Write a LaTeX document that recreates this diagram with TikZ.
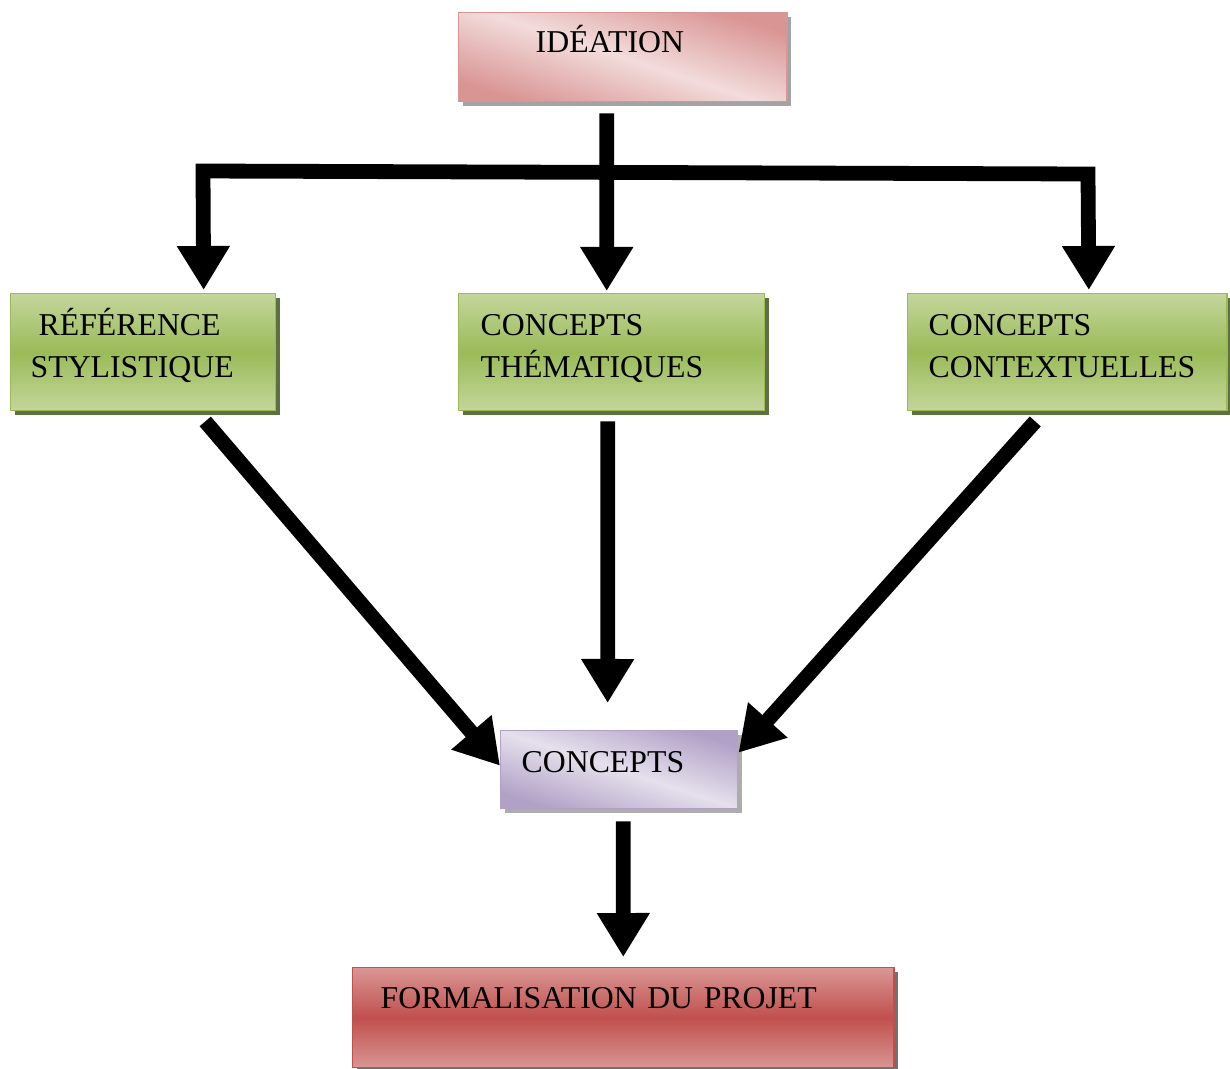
\documentclass[tikz,border=0pt]{standalone}
\usepackage{fontspec}
\setmainfont{Liberation Serif}
\usetikzlibrary{arrows.meta,shadows}
\definecolor{idedark}{HTML}{D99594}
\definecolor{idelight}{HTML}{F2DCDB}
\definecolor{verdark}{HTML}{9BBB59}
\definecolor{verlight}{HTML}{C3D69B}
\definecolor{vershadow}{HTML}{5E7040}
\definecolor{viodark}{HTML}{B2A1C7}
\definecolor{violight}{HTML}{E5E0EC}
\definecolor{roudark}{HTML}{C0504D}
\definecolor{roulight}{HTML}{D99694}

\begin{document}
\begin{tikzpicture}[
        x=0.025cm, y=-0.025cm,
        every node/.style={font=\fontsize{22.6}{29.8}\selectfont, anchor=north west,
          inner ysep=0pt, align=left, line width=1pt},
        >={Triangle[width=1.25cm,length=1.1cm]},
        ide/.style={
          draw=idedark, top color=idedark, bottom color=idedark, middle color=idelight,
          shading angle=-18,
          drop shadow={fill=black!45, opacity=0.8, shadow xshift=0.1cm, shadow yshift=-0.1cm},
        },
        ver/.style={
          draw=verdark, top color=verlight, bottom color=verlight, middle color=verdark,
          drop shadow={fill=vershadow, opacity=1, shadow xshift=0.1cm, shadow yshift=-0.1cm},
          text height=1.05cm, text depth=1.875cm,
        },
        vio/.style={
          draw=viodark, top color=viodark, bottom color=viodark, middle color=violight,
          shading angle=-18,
          drop shadow={fill=black!40, opacity=0.8, shadow xshift=0.1cm, shadow yshift=-0.1cm},
        },
        rou/.style={
          draw=roudark, top color=roulight, bottom color=roulight, middle color=roudark,
          drop shadow={fill=black!70, opacity=0.8, shadow xshift=0.1cm, shadow yshift=-0.1cm},
        },
        fl/.style={line width=0.37cm, draw=black},
      ]
      \useasboundingbox (0,0) rectangle (1230,1068);

      \node[ide, inner xsep=1.925cm, text width=4.35cm, text height=1cm, text depth=1.225cm]
        (idea) at (458,12) {IDÉATION};
      \node[ver, inner xsep=0.5cm, text width=5.625cm] (ref) at (10,293)
        {\hspace*{2mm}RÉFÉRENCE\\STYLISTIQUE};
      \node[ver, inner xsep=0.55cm, text width=6.55cm] (them) at (458,293)
        {CONCEPTS\\THÉMATIQUES};
      \node[ver, inner xsep=0.525cm, text width=6.925cm] (ctx) at (907,293)
        {CONCEPTS\\CONTEXTUELLES};
      \node[vio, inner xsep=0.525cm, text width=4.875cm, text height=1.05cm, text depth=0.9cm]
        (conc) at (500,730) {CONCEPTS};
      \node[rou, inner xsep=0.7cm, text width=12.125cm, text height=1.025cm, text depth=1.475cm]
        (form) at (352,967) {FORMALISATION DU PROJET};

      \coordinate (barL) at (203,171);
      \coordinate (barR) at (1088,174);

      \draw[fl, <->] ([xshift=1.51cm,yshift=0.075cm]ref.north) -- (barL) -- (barR)
        -- ([xshift=0.54cm,yshift=0.075cm]ctx.north);
      \draw[fl, ->] ([xshift=-0.4cm,yshift=-0.275cm]idea.south)
        -- ([xshift=-0.125cm,yshift=0.05cm]them.north);

      \draw[fl, ->] ([xshift=1.55cm,yshift=-0.25cm]ref.south) -- ([yshift=0.1cm]conc.west);
      \draw[fl, ->] ([xshift=-0.1cm,yshift=-0.25cm]them.south)
        -- ([xshift=-0.29cm,yshift=0.675cm]conc.north);
      \draw[fl, ->] ([xshift=-0.8cm,yshift=-0.25cm]ctx.south) -- ([yshift=0.425cm]conc.east);
      \draw[fl, ->] ([xshift=0.1cm,yshift=-0.3cm]conc.south) -- ([yshift=0.25cm]form.north);
    \end{tikzpicture}
\end{document}
